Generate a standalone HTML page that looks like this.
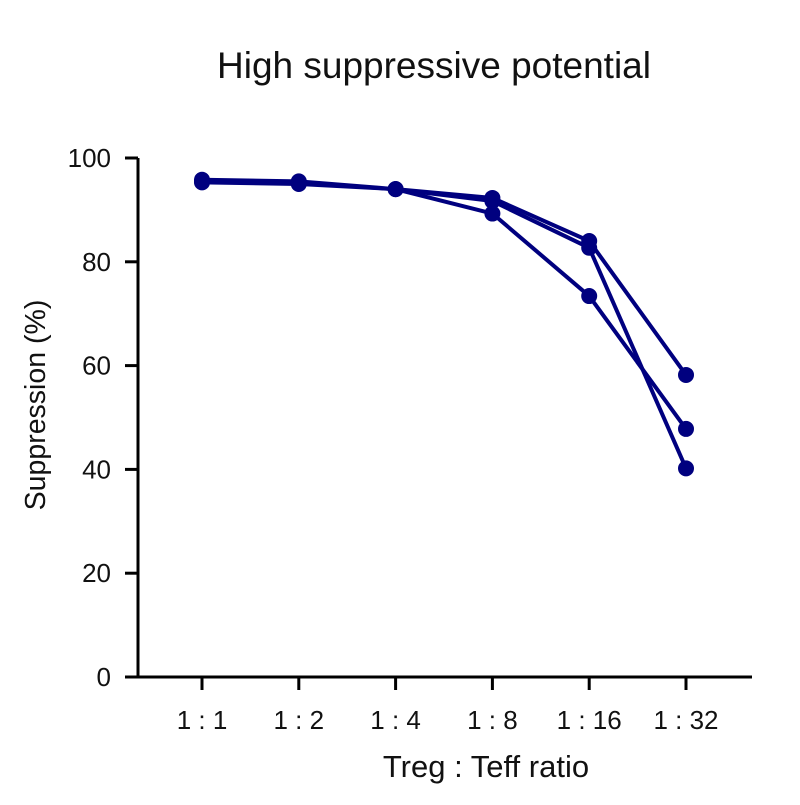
<!DOCTYPE html>
<html><head><meta charset="utf-8"><style>
body{margin:0;background:#fff}
text{font-family:"Liberation Sans",sans-serif;fill:#111}
</style></head><body>
<svg id="chart" width="800" height="800">
<text x="434" y="78" font-size="37" text-anchor="middle">High suppressive potential</text>
<g id="axes"></g>
<g id="series"></g>
<text x="486" y="777" font-size="31" text-anchor="middle">Treg : Teff ratio</text>
<text transform="translate(45,405) rotate(-90)" font-size="28.5" text-anchor="middle">Suppression (%)</text>
</svg>
<script>
const categories=["1 : 1","1 : 2","1 : 4","1 : 8","1 : 16","1 : 32"];
const seriesA=[95.8,95.5,94,92.3,84,58.2];
const seriesB=[95.5,95.2,94,91.7,82.7,40.2];
const seriesC=[95.3,95,94,89.3,73.4,47.8];
const yTicks=[0,20,40,60,80,100];
const NS="http://www.w3.org/2000/svg";
const x0=138,x1=752,yTop=158,yBot=677;
function xs(i){return 202+i*96.8;}
function ys(v){return yBot-(v/100)*(yBot-yTop);}
function mk(tag,attrs,parent){const e=document.createElementNS(NS,tag);for(const k in attrs)e.setAttribute(k,attrs[k]);parent.appendChild(e);return e;}
const ax=document.getElementById('axes');
let l=mk('line',{x1:x0,y1:yTop,x2:x0,y2:yBot+1.5,stroke:'#000','stroke-width':3},ax);


l=mk('line',{x1:x0-1.5,y1:yBot,x2:x1,y2:yBot,stroke:'#000','stroke-width':3},ax);


yTicks.forEach(v=>{
 const t=mk('line',{x1:x0-13,y1:ys(v),x2:x0,y2:ys(v),stroke:'#000','stroke-width':3},ax);
 
 
 const tx=mk('text',{x:x0-27,y:ys(v)+9,'font-size':26,'text-anchor':'end'},ax);
 tx.textContent=v;
 
 
});
categories.forEach((c,i)=>{
 const t=mk('line',{x1:xs(i),y1:yBot,x2:xs(i),y2:yBot+13,stroke:'#000','stroke-width':3},ax);
 
 
 const tx=mk('text',{x:xs(i),y:yBot+52,'font-size':26,'text-anchor':'middle'},ax);
 tx.textContent=c;
 
 
});
const sg=document.getElementById('series');
[seriesA,seriesB,seriesC].forEach((s,k)=>{
 const p=mk('polyline',{points:s.map((v,i)=>xs(i)+','+ys(v)).join(' '),fill:'none',stroke:'#00007f','stroke-width':4},sg);
 
 
});
[seriesA,seriesB,seriesC].forEach((s,k)=>{
 s.forEach((v,i)=>{
  const c=mk('circle',{cx:xs(i),cy:ys(v),r:8,fill:'#00007f'},sg);
  
  
 });
});
</script>
</body></html>
